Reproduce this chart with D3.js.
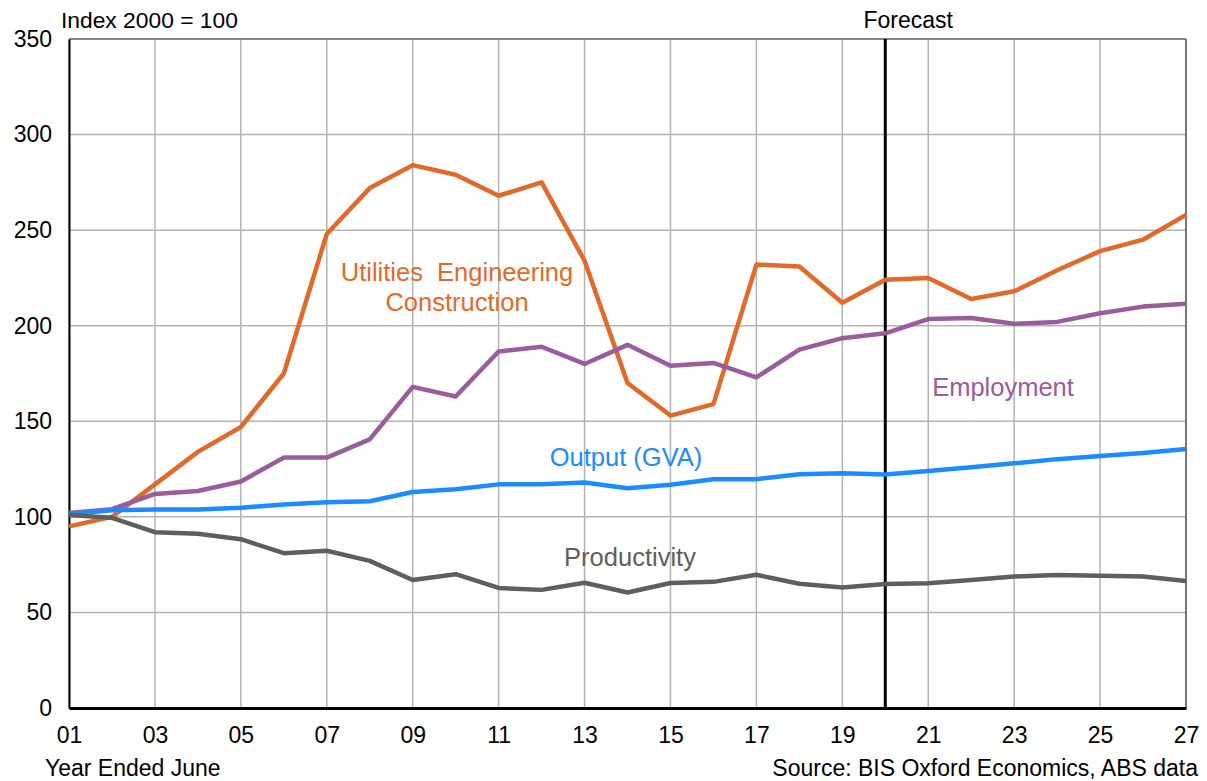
<!DOCTYPE html>
<html>
<head>
<meta charset="utf-8">
<script src="https://cdn.jsdelivr.net/npm/d3@7"></script>
<style>
  body { margin: 0; background: #fff; }
  svg { display: block; font-family: "Liberation Sans", Arial, sans-serif; }
</style>
</head>
<body>
<div id="chart-container"></div>
<script>
const width = 1207, height = 781;
const margin = { top: 39, left: 69, right: 21, bottom: 73 };

// year ended June, 2001..2027
const years = d3.range(1, 28);
const xTicks = [1, 3, 5, 7, 9, 11, 13, 15, 17, 19, 21, 23, 25, 27];
const yTicks = [0, 50, 100, 150, 200, 250, 300, 350];
const forecastYear = 20;

const utilities = [95, 100, 117, 134, 147, 175, 248, 272, 284, 279, 268, 275, 234, 170, 153, 159, 232, 231, 212, 224, 225, 214, 218, 229, 239, 245, 258];
const employment = [102, 104, 112, 113.5, 118.5, 131, 131, 140.5, 168, 163, 186.5, 189, 180, 190, 179, 180.5, 173, 187.5, 193.5, 196, 203.5, 204, 201, 202, 206.5, 210, 211.5];
const output = [101.5, 103.5, 103.8, 103.8, 104.8, 106.5, 107.7, 108.2, 113, 114.5, 117, 117, 118, 115, 116.8, 119.7, 119.7, 122.3, 122.8, 122.1, 124, 126, 128, 130.2, 131.8, 133.4, 135.5];
const productivity = [101, 99.5, 92, 91.2, 88.3, 81, 82.3, 77, 67, 70, 62.8, 61.8, 65.5, 60.4, 65.4, 66, 69.7, 65, 63, 64.9, 65.3, 67, 68.8, 69.6, 69.2, 68.8, 66.4];

const series = [
  { name: "utilities", values: utilities, color: "#E3692B" },
  { name: "employment", values: employment, color: "#995C9C" },
  { name: "output", values: output, color: "#1A8CFF" },
  { name: "productivity", values: productivity, color: "#5E5F5B" }
];

const svg = d3.select("#chart-container").append("svg")
  .attr("width", width)
  .attr("height", height);

const x = d3.scaleLinear()
  .domain([1, 27])
  .range([margin.left, width - margin.right]);
const y = d3.scaleLinear()
  .domain([0, 350])
  .range([height - margin.bottom, margin.top]);

// grid
const grid = svg.append("g");
grid.selectAll(".vgrid")
  .data(xTicks)
  .enter().append("line")
  .attr("x1", d => x(d)).attr("x2", d => x(d))
  .attr("y1", y(0)).attr("y2", y(350))
  .attr("stroke", "#b3b3b3").attr("stroke-width", 1.5);
grid.selectAll(".hgrid")
  .data(yTicks)
  .enter().append("line")
  .attr("x1", x(1)).attr("x2", x(27))
  .attr("y1", d => y(d)).attr("y2", d => y(d))
  .attr("stroke", "#b3b3b3").attr("stroke-width", 1.5);

// frame
svg.append("line")
  .attr("x1", x(1)).attr("x2", x(27)).attr("y1", y(350)).attr("y2", y(350))
  .attr("stroke", "#444").attr("stroke-width", 1.2);
svg.append("line")
  .attr("x1", x(27)).attr("x2", x(27)).attr("y1", y(0)).attr("y2", y(350))
  .attr("stroke", "#444").attr("stroke-width", 1.2);

// forecast divider
svg.append("line")
  .attr("x1", x(forecastYear)).attr("x2", x(forecastYear))
  .attr("y1", y(0)).attr("y2", y(350))
  .attr("stroke", "#000").attr("stroke-width", 3);

// axes
const xAxis = g => g
  .attr("transform", `translate(0,${y(0)})`)
  .call(d3.axisBottom(x).tickValues(xTicks).tickSize(0).tickPadding(19)
    .tickFormat(d => d3.format("02d")(d)))
  .call(g => g.select(".domain").attr("stroke", "#000").attr("stroke-width", 3));
const yAxis = g => g
  .attr("transform", `translate(${x(1)},0)`)
  .call(d3.axisLeft(y).tickValues(yTicks).tickSize(0).tickPadding(17))
  .call(g => g.select(".domain").attr("stroke", "#000").attr("stroke-width", 2));

svg.append("g").call(yAxis)
  .selectAll("text").style("font-size", "23px").attr("fill", "#000");
svg.append("g").call(xAxis)
  .selectAll("text").style("font-size", "23px").attr("fill", "#000");

// lines
const line = d3.line()
  .x((d, i) => x(years[i]))
  .y(d => y(d));

svg.append("g").selectAll("path")
  .data(series)
  .enter().append("path")
  .attr("fill", "none")
  .attr("stroke", d => d.color)
  .attr("stroke-width", 4.5)
  .attr("stroke-linejoin", "round")
  .attr("d", d => line(d.values));

// labels
const labels = [
  { text: "Utilities  Engineering", x: 457, y: 272, color: "#E3692B" },
  { text: "Construction", x: 457, y: 302, color: "#E3692B" },
  { text: "Employment", x: 1003, y: 387, color: "#995C9C" },
  { text: "Output (GVA)", x: 626, y: 457, color: "#1A8CFF" },
  { text: "Productivity", x: 630, y: 557, color: "#5E5F5B" }
];
svg.append("g").selectAll("text")
  .data(labels)
  .enter().append("text")
  .attr("x", d => d.x)
  .attr("y", d => d.y)
  .attr("dy", "0.35em")
  .attr("text-anchor", "middle")
  .attr("fill", d => d.color)
  .style("font-size", "25.5px")
  .style("white-space", "pre")
  .text(d => d.text);

svg.append("text")
  .attr("x", 61).attr("y", 20).attr("dy", "0.35em")
  .style("font-size", "22.8px")
  .text("Index 2000 = 100");
svg.append("text")
  .attr("x", x(forecastYear) + 23).attr("y", 20).attr("dy", "0.35em")
  .attr("text-anchor", "middle")
  .style("font-size", "23px")
  .text("Forecast");
svg.append("text")
  .attr("x", 45).attr("y", 768).attr("dy", "0.35em")
  .style("font-size", "23px")
  .text("Year Ended June");
svg.append("text")
  .attr("x", 1198).attr("y", 768).attr("dy", "0.35em")
  .attr("text-anchor", "end")
  .style("font-size", "23px")
  .text("Source: BIS Oxford Economics, ABS data");
</script>
</body>
</html>
